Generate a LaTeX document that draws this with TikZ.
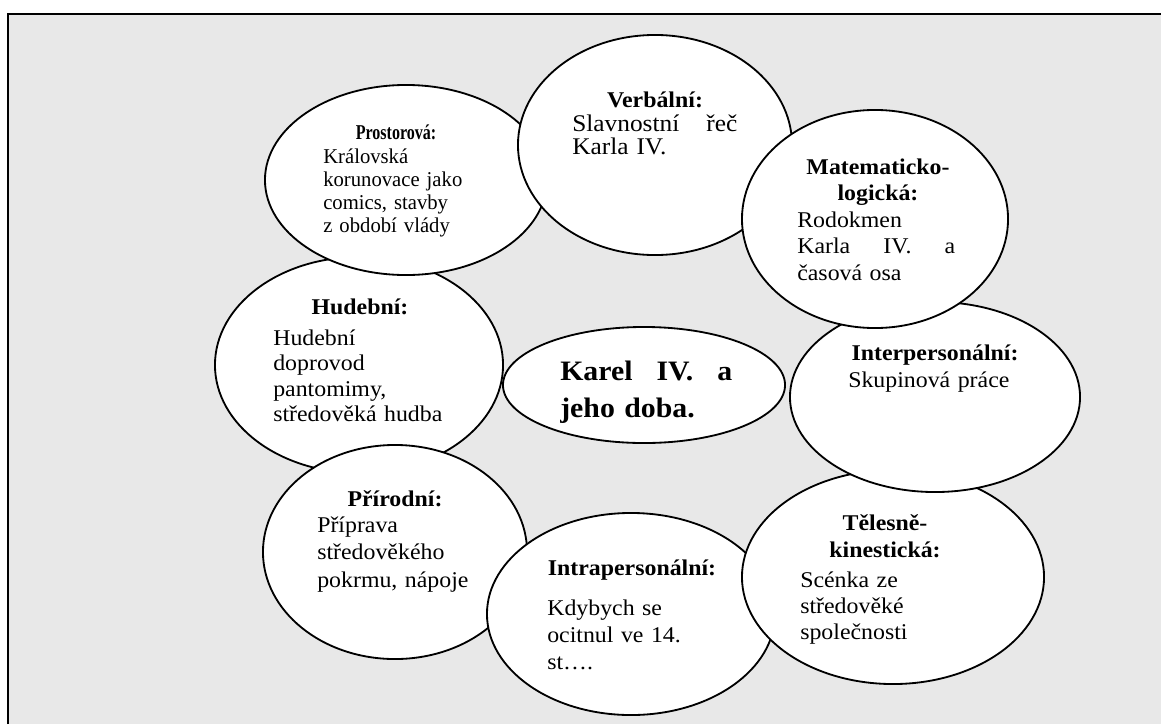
\documentclass[tikz,border=0pt]{standalone}
\usepackage{fontspec}
\setmainfont{Liberation Serif}[FakeStretch=1.06]
\newfontfamily\prostfont{Liberation Serif}[FakeStretch=0.98]
\newfontfamily\prosttitle{Liberation Serif}[FakeStretch=0.76]
\usetikzlibrary{shapes.geometric}

\tikzset{
  bubble/.style={ellipse, draw, line width=1.3pt, fill=white, inner sep=0pt},
  head/.style={font=\fontsize{16}{18.5}\selectfont\bfseries, align=center, anchor=base, inner sep=0pt, text width=5cm},
  body/.style={font=\fontsize{16}{19}\selectfont, align=left, anchor=base west, inner sep=0pt, text width=#1},
  body/.default=5cm
}

\begin{document}
\begin{tikzpicture}[x=0.025cm, y=-0.025cm]
    \useasboundingbox (0,0) rectangle (1161,724);
    \fill[black!9] (8,14) rectangle (1161,724);
    \draw[line width=1.1pt] (8,724) -- (8,14) -- (1161,14);
    \node[bubble, minimum width=7.2cm, minimum height=5.4cm] (hud) at (359,365) {};
    \node[bubble, minimum width=6.6cm, minimum height=5.35cm] (pri) at (395,552) {};
    \node[bubble, minimum width=7.2cm, minimum height=5.05cm] (intra) at (631,614) {};
    \node[bubble, minimum width=7.55cm, minimum height=5.35cm] (tel) at (893,577) {};
    \node[bubble, minimum width=7.25cm, minimum height=4.75cm] (inter) at (935,397) {};
    \node[bubble, minimum width=7.05cm, minimum height=4.75cm] (prost) at (406,180) {};
    \node[bubble, minimum width=6.85cm, minimum height=5.5cm] (verb) at (655,145) {};
    \node[bubble, minimum width=6.65cm, minimum height=5.45cm] (mat) at (875,219) {};
    \node[bubble, minimum width=7.05cm, minimum height=2.9cm] (karel) at (644,385) {};
    \node[head, font=\fontsize{15}{18.5}\selectfont\prosttitle\bfseries] (prostT) at (396,139) {Prostorová:};
    \node[body, font=\fontsize{15}{16.5}\selectfont\prostfont] (prostB) at (323,163) {Královská\\korunovace jako\\comics, stavby\\z období vlády};
    \node[head] (verbT) at (655,107) {Verbální:};
    \node[body=4.125cm, font=\fontsize{17}{16.8}\selectfont] (verbB) at (572,131) {Slavnostní\hfill řeč\\Karla IV.};
    \node[head] (matT) at (878,174) {Matematicko-\\logická:};
    \node[body=3.95cm] (matB) at (797,227) {Rodokmen\\Karla\hfill IV.\hfill a\\časová osa};
    \node[head] (interT) at (935,360) {Interpersonální:};
    \node[body] (interB) at (848,387) {Skupinová práce};
    \node[head, font=\fontsize{16}{19.8}\selectfont\bfseries] (telT) at (885,530) {Tělesně-\\kinestická:};
    \node[body, font=\fontsize{16}{18.8}\selectfont] (telB) at (800,587) {Scénka ze\\středověké\\společnosti};
    \node[head] (intraT) at (632,575) {Intrapersonální:};
    \node[body, font=\fontsize{16}{19.5}\selectfont] (intraB) at (547,615) {Kdybych se\\ocitnul ve 14.\\st….};
    \node[head] (priT) at (395,506) {Přírodní:};
    \node[body, font=\fontsize{16}{19.8}\selectfont] (priB) at (317,532) {Příprava\\středověkého\\pokrmu, nápoje};
    \node[head] (hudT) at (360,314) {Hudební:};
    \node[body, font=\fontsize{16}{18.2}\selectfont] (hudB) at (273,345) {Hudební\\doprovod\\pantomimy,\\středověká hudba};
    \node[body=4.3cm, font=\fontsize{20}{27}\selectfont\bfseries] (karelT) at (560,380) {Karel\hfill IV.\hfill a\\jeho doba.};
\end{tikzpicture}
\end{document}
